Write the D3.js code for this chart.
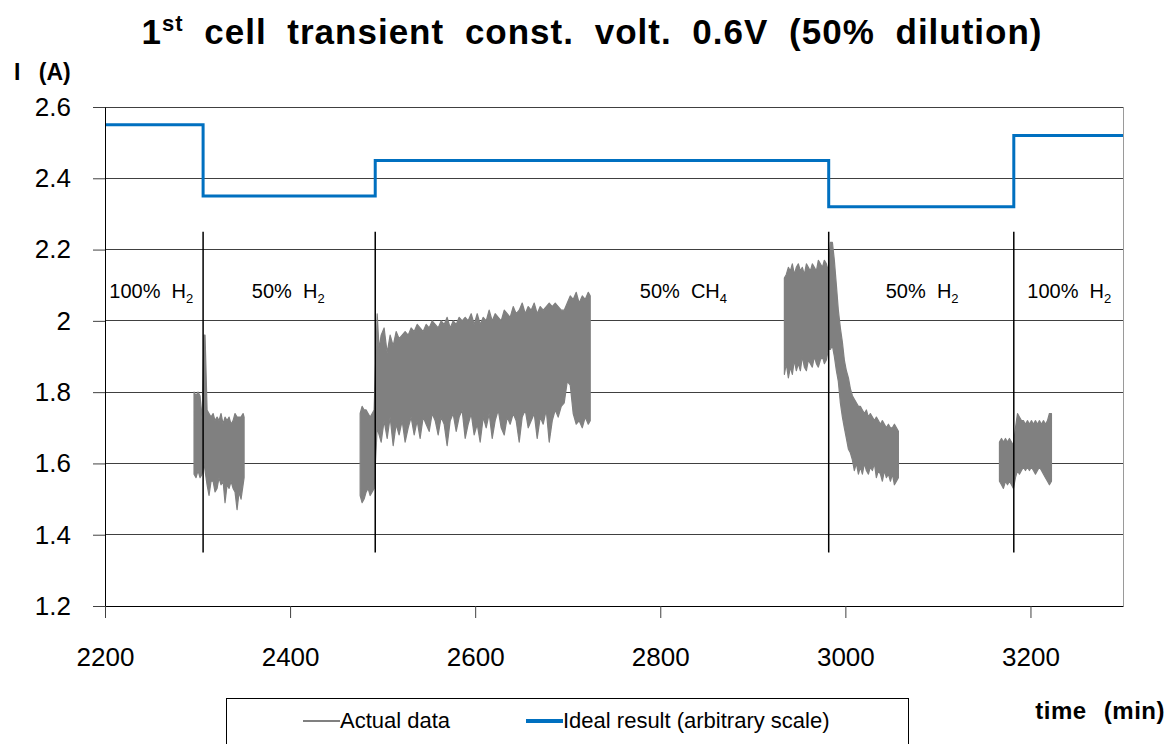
<!DOCTYPE html>
<html><head><meta charset="utf-8">
<script src="https://cdn.jsdelivr.net/npm/d3@7"></script>
<style>
html,body{margin:0;padding:0;background:#fff;}
svg{display:block;font-family:"Liberation Sans",Arial,sans-serif;}
text{white-space:pre;}
</style></head>
<body><svg id="c" width="1176" height="744"></svg>
<script>
// ---------- data ----------
const xTicks = [2200, 2400, 2600, 2800, 3000, 3200];
const xTickLabels = ["2200", "2400", "2600", "2800", "3000", "3200"];
const yTicks = [1.2, 1.4, 1.6, 1.8, 2.0, 2.2, 2.4, 2.6];
const yTickLabels = ["1.2", "1.4", "1.6", "1.8", "2", "2.2", "2.4", "2.6"];

// ideal result (step line, arbitrary scale)
const idealTime = [2200, 2306, 2492, 2982, 3182, 3300];
const idealValue = [2.55, 2.35, 2.45, 2.32, 2.52, 2.52];

// gas switch times (vertical markers) and their extent
const switchTimes = [2306, 2492, 2982, 3182];
const switchRange = [1.35, 2.25];

// phase labels
const phaseLabels = ["100%  H", "50%  H", "50%  CH", "50%  H", "100%  H"];
const phaseSubs = ["2", "2", "4", "2", "2"];
const phaseTimes = [2250, 2398, 2825, 3083, 3242];
const phaseLevel = 2.065;

// actual data: envelope (min / max of the oscillating current) per recording block
const segA_time = [2296.2,2298.4,2300.5,2302.7,2304.9,2307.0,2308.1,2310.3,2312.4,2314.6,2316.8,2318.9,2321.1,2323.2,2325.4,2327.6,2329.7,2331.9,2334.1,2336.2,2338.4,2340.5,2342.7,2344.9,2347.0,2349.2,2350.3];
const segA_high = [1.80,1.79,1.80,1.79,1.72,1.96,1.96,1.75,1.74,1.73,1.74,1.72,1.73,1.72,1.74,1.71,1.73,1.72,1.73,1.71,1.72,1.74,1.73,1.73,1.73,1.74,1.73];
const segA_low  = [1.57,1.56,1.58,1.56,1.57,1.60,1.58,1.54,1.51,1.55,1.55,1.52,1.53,1.56,1.54,1.55,1.49,1.54,1.53,1.55,1.53,1.52,1.47,1.52,1.50,1.54,1.56];

const segB_time = [2475.7,2477.8,2480.0,2482.2,2484.3,2486.5,2488.7,2490.8,
  2494.1,2496.2,2498.4,
  2501.6,2504.9,2508.1,2511.4,2514.6,2517.8,2521.1,2524.3,2527.6,2530.8,
  2534.1,2537.3,2540.5,2543.8,2547.0,2550.3,2553.5,2556.8,2560.0,2563.2,
  2566.5,2569.7,2573.0,2576.2,2579.5,2582.7,2585.9,2589.2,2592.4,2595.7,
  2598.9,2602.2,2605.4,2608.7,2611.9,2615.1,2618.4,2621.6,2624.9,2628.1,
  2631.4,2634.6,2637.8,2641.1,2644.3,2647.6,2650.8,2654.1,2657.3,2660.5,
  2663.8,2667.0,2670.3,2673.5,2676.8,2680.0,2683.3,2686.5,2689.7,2693.0,
  2696.2,2699.5,2702.7,2705.9,2709.2,2712.4,2715.7,2718.9,2722.2,2724.3];
const segB_high = [1.74,1.76,1.75,1.75,1.74,1.73,1.74,1.75,
  2.02,1.92,1.96,
  1.98,1.91,1.96,1.93,1.97,1.95,1.96,1.97,1.96,1.98,
  1.97,1.99,1.98,1.97,1.99,1.98,2.00,1.99,1.98,2.00,
  1.99,2.01,1.98,2.00,1.99,2.01,2.00,2.01,2.00,2.02,
  1.99,2.02,1.99,2.01,2.00,2.03,2.00,2.02,2.01,2.00,
  2.03,2.02,2.01,2.04,2.02,2.03,2.05,2.02,2.04,2.03,
  2.05,2.02,2.04,2.03,2.04,2.05,2.04,2.05,2.04,2.03,
  2.03,2.05,2.07,2.06,2.08,2.05,2.07,2.06,2.08,2.07];
const segB_low = [1.51,1.49,1.50,1.52,1.53,1.51,1.52,1.53,
  1.70,1.68,1.66,
  1.72,1.67,1.73,1.65,1.71,1.68,1.72,1.66,1.70,1.73,
  1.68,1.72,1.67,1.73,1.71,1.69,1.74,1.72,1.68,1.73,
  1.71,1.65,1.72,1.74,1.69,1.73,1.75,1.67,1.71,1.74,
  1.68,1.71,1.66,1.73,1.70,1.74,1.67,1.72,1.75,1.70,
  1.68,1.73,1.71,1.74,1.72,1.66,1.73,1.75,1.70,1.72,
  1.74,1.67,1.73,1.71,1.75,1.66,1.72,1.75,1.73,1.76,
  1.77,1.83,1.82,1.74,1.71,1.72,1.70,1.73,1.71,1.72];

const segD_time = [2934.1,2936.2,2938.4,2940.6,2942.7,2944.9,2947.0,2949.2,2951.4,2953.5,
  2955.7,2957.9,2960.0,2962.2,2964.3,2966.5,2968.7,2970.8,2973.0,2975.2,
  2977.3,2979.5,2981.6,
  2983.8,2986.0,2988.1,2990.3,2992.4,2994.6,2996.8,2998.9,3001.1,3003.3,
  3005.4,3007.6,3009.7,3011.9,3014.1,3016.2,3018.4,3020.6,3022.7,3024.9,
  3027.0,3029.2,3031.4,3033.5,3035.7,3037.9,3040.0,3042.2,3044.3,3046.5,
  3048.7,3050.8,3053.0,3055.2,3057.3];
const segD_high = [2.12,2.13,2.15,2.14,2.16,2.13,2.15,2.16,2.14,2.15,
  2.13,2.16,2.15,2.14,2.16,2.15,2.14,2.17,2.16,2.15,
  2.17,2.16,2.14,
  2.22,2.22,2.17,2.10,2.03,1.98,1.94,1.89,1.86,1.84,
  1.81,1.79,1.78,1.77,1.76,1.76,1.75,1.74,1.75,1.73,
  1.74,1.73,1.72,1.73,1.72,1.71,1.72,1.71,1.70,1.71,
  1.70,1.70,1.71,1.70,1.69];
const segD_low = [1.85,1.88,1.84,1.87,1.85,1.89,1.86,1.88,1.86,1.90,
  1.87,1.86,1.89,1.88,1.87,1.90,1.88,1.87,1.89,1.90,
  1.88,1.89,1.92,
  1.92,1.93,1.90,1.86,1.83,1.77,1.73,1.70,1.67,1.64,
  1.63,1.61,1.58,1.60,1.57,1.59,1.57,1.60,1.58,1.57,
  1.59,1.58,1.60,1.56,1.58,1.57,1.55,1.58,1.56,1.57,
  1.55,1.57,1.54,1.55,1.56];

const segE_time = [3166.5,3168.7,3170.8,3173.0,3175.2,3177.3,3179.5,3181.6,3183.8,3186.0,
  3188.1,3190.3,3192.4,3194.6,3196.8,3198.9,3201.1,3203.2,3205.4,3207.6,
  3209.7,3211.9,3214.1,3216.2,3218.4,3220.5,3222.7];
const segE_high = [1.66,1.67,1.66,1.67,1.66,1.67,1.66,1.65,1.70,1.74,
  1.73,1.72,1.72,1.71,1.72,1.71,1.72,1.71,1.72,1.71,
  1.72,1.71,1.72,1.71,1.72,1.74,1.74];
const segE_low = [1.55,1.54,1.53,1.55,1.54,1.55,1.54,1.53,1.56,1.58,
  1.57,1.58,1.59,1.58,1.59,1.58,1.59,1.58,1.57,1.58,
  1.59,1.58,1.57,1.56,1.55,1.54,1.55];

const legendNames = ["Actual data", "Ideal result (arbitrary scale)"];

// ---------- drawing ----------
const svg = d3.select("#c");
const L = 105, R = 1123, T = 107, B = 606;
const x = d3.scaleLinear().domain([2200, 3300]).range([L, R]);
const y = d3.scaleLinear().domain([1.2, 2.6]).range([B, T]);
const GRAY = "#808080", BLUE = "#0070C0";

// title
const title = svg.append("text").attr("x", 592).attr("y", 44).attr("text-anchor", "middle")
  .attr("font-size", 35).attr("font-weight", "bold").attr("letter-spacing", 1)
  .attr("word-spacing", 10).attr("fill", "#000");
title.append("tspan").text("1");
title.append("tspan").text("st").attr("font-size", 22).attr("dy", -13);
title.append("tspan").text(" cell transient const. volt. 0.6V (50% dilution)").attr("dy", 13);

// y unit
svg.append("text").attr("x", 14).attr("y", 80).attr("font-size", 23).attr("font-weight", "bold")
  .attr("word-spacing", 12).text("I (A)");

// gridlines
svg.append("g").selectAll("line").data(yTicks).join("line")
  .attr("x1", L).attr("x2", R).attr("y1", d => y(d)).attr("y2", d => y(d))
  .attr("stroke", "#404040").attr("stroke-width", 1).attr("shape-rendering", "crispEdges");
// right border
svg.append("line").attr("x1", R).attr("x2", R).attr("y1", T).attr("y2", B)
  .attr("stroke", "#9a9a9a").attr("shape-rendering", "crispEdges");

// actual data envelopes
const segs = [
  {t: segA_time, lo: segA_low, hi: segA_high},
  {t: segB_time, lo: segB_low, hi: segB_high},
  {t: segD_time, lo: segD_low, hi: segD_high},
  {t: segE_time, lo: segE_low, hi: segE_high}
];
const area = d3.area().x(d => x(d[0])).y0(d => y(d[1])).y1(d => y(d[2]));
const gData = svg.append("g");
segs.forEach(s => {
  const pts = s.t.map((t, i) => [t, s.lo[i], s.hi[i]]);
  gData.append("path").attr("d", area(pts)).attr("fill", GRAY)
    .attr("stroke", GRAY).attr("stroke-width", 1.2).attr("stroke-linejoin", "round");
});

// switch markers
svg.append("g").selectAll("line").data(switchTimes).join("line")
  .attr("x1", d => x(d)).attr("x2", d => x(d))
  .attr("y1", y(switchRange[1])).attr("y2", y(switchRange[0]))
  .attr("stroke", "#000").attr("stroke-width", 1.5);

// ideal line
const line = d3.line().x(d => x(d[0])).y(d => y(d[1])).curve(d3.curveStepAfter);
svg.append("path").attr("d", line(idealTime.map((t, i) => [t, idealValue[i]])))
  .attr("fill", "none").attr("stroke", BLUE).attr("stroke-width", 3);

// phase labels
phaseLabels.forEach((lab, i) => {
  const t = svg.append("text").attr("x", x(phaseTimes[i])).attr("y", y(phaseLevel))
    .attr("text-anchor", "middle").attr("font-size", 20).attr("fill", "#000");
  t.append("tspan").text(lab);
  t.append("tspan").text(phaseSubs[i]).attr("font-size", 13).attr("dy", 5);
});

// axes
const yAxis = d3.axisLeft(y).tickValues(yTicks).tickFormat((d, i) => yTickLabels[i])
  .tickSizeOuter(0).tickSizeInner(12).tickPadding(22);
const gy = svg.append("g").attr("transform", `translate(${L},0)`).call(yAxis);
gy.selectAll("text").attr("font-size", 26).attr("font-family", "Liberation Sans, Arial, sans-serif").attr("fill", "#000");
gy.select(".domain").attr("stroke", "#000");
gy.selectAll(".tick line").attr("stroke", "#404040");

const xAxis = d3.axisBottom(x).tickValues(xTicks).tickFormat((d, i) => xTickLabels[i])
  .tickSizeOuter(0).tickSizeInner(12).tickPadding(30);
const gx = svg.append("g").attr("transform", `translate(0,${B})`).call(xAxis);
gx.selectAll("text").attr("font-size", 26).attr("font-family", "Liberation Sans, Arial, sans-serif").attr("fill", "#000");
gx.select(".domain").attr("stroke", "#000");
gx.selectAll(".tick line").attr("stroke", "#404040");

// x unit
svg.append("text").attr("x", 1165).attr("y", 719).attr("text-anchor", "end")
  .attr("font-size", 24).attr("font-weight", "bold").attr("letter-spacing", 0.5)
  .attr("word-spacing", 10).text("time (min)");

// legend
const lg = svg.append("g");
lg.append("rect").attr("x", 226.5).attr("y", 698.5).attr("width", 682).attr("height", 60)
  .attr("fill", "#fff").attr("stroke", "#000");
lg.append("line").attr("x1", 303).attr("x2", 340).attr("y1", 721).attr("y2", 721)
  .attr("stroke", GRAY).attr("stroke-width", 2);
lg.append("text").attr("x", 340).attr("y", 728).attr("font-size", 22).text(legendNames[0]);
lg.append("line").attr("x1", 526).attr("x2", 563).attr("y1", 721).attr("y2", 721)
  .attr("stroke", BLUE).attr("stroke-width", 4);
lg.append("text").attr("x", 563).attr("y", 728).attr("font-size", 22).text(legendNames[1]);
</script></body></html>
